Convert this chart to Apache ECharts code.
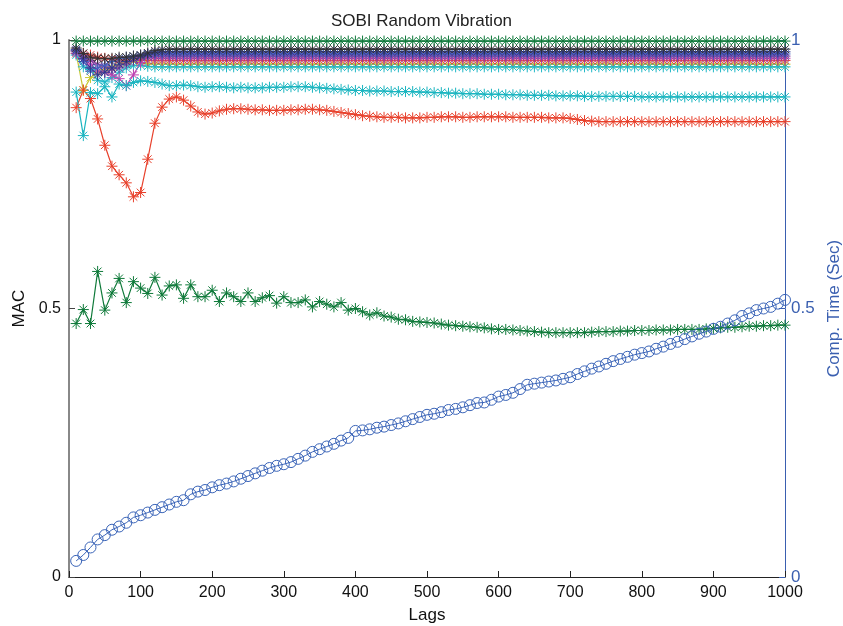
<!DOCTYPE html>
<html><head><meta charset="utf-8">
<script src="https://cdn.jsdelivr.net/npm/echarts@6/dist/echarts.min.js"></script>
<style>html,body{margin:0;padding:0;background:#fff}#c{width:843px;height:626px}</style>
</head><body><div id="c"></div>
<script>
const lags = [10,20,30,40,50,60,70,80,90,100,110,120,130,140,150,160,170,180,190,200,210,220,230,240,250,260,270,280,290,300,310,320,330,340,350,360,370,380,390,400,410,420,430,440,450,460,470,480,490,500,510,520,530,540,550,560,570,580,590,600,610,620,630,640,650,660,670,680,690,700,710,720,730,740,750,760,770,780,790,800,810,820,830,840,850,860,870,880,890,900,910,920,930,940,950,960,970,980,990,1000];
const xTicks = [0,100,200,300,400,500,600,700,800,900,1000];
const yTicks = [0,0.5,1];

const macRedLow = [0.874,0.907,0.891,0.853,0.804,0.765,0.749,0.734,0.708,0.716,0.778,0.845,0.875,0.890,0.894,0.888,0.877,0.866,0.862,0.864,0.868,0.871,0.872,0.872,0.871,0.870,0.870,0.869,0.869,0.869,0.870,0.870,0.871,0.871,0.870,0.869,0.867,0.865,0.863,0.861,0.859,0.858,0.857,0.856,0.856,0.856,0.855,0.855,0.855,0.856,0.856,0.857,0.857,0.857,0.856,0.856,0.857,0.857,0.857,0.857,0.857,0.856,0.856,0.856,0.856,0.856,0.855,0.855,0.855,0.854,0.852,0.850,0.849,0.848,0.848,0.848,0.848,0.848,0.848,0.848,0.848,0.848,0.848,0.848,0.848,0.848,0.848,0.848,0.848,0.848,0.848,0.848,0.848,0.848,0.848,0.848,0.848,0.848,0.848,0.848];
const macCyanLow = [0.903,0.822,0.902,0.900,0.913,0.894,0.918,0.915,0.921,0.924,0.923,0.921,0.918,0.915,0.915,0.916,0.915,0.913,0.912,0.913,0.913,0.912,0.911,0.912,0.911,0.911,0.911,0.912,0.912,0.912,0.913,0.913,0.913,0.912,0.911,0.910,0.909,0.908,0.907,0.906,0.906,0.905,0.905,0.905,0.904,0.904,0.904,0.904,0.903,0.903,0.902,0.902,0.901,0.901,0.900,0.900,0.900,0.899,0.899,0.899,0.898,0.898,0.898,0.897,0.897,0.897,0.897,0.896,0.896,0.896,0.896,0.895,0.895,0.895,0.895,0.895,0.895,0.895,0.895,0.894,0.894,0.894,0.894,0.894,0.894,0.894,0.894,0.894,0.894,0.894,0.894,0.894,0.894,0.894,0.894,0.894,0.894,0.894,0.894,0.894];
const macGreenLow = [0.472,0.498,0.472,0.569,0.497,0.529,0.556,0.511,0.550,0.538,0.528,0.558,0.525,0.542,0.544,0.519,0.544,0.522,0.522,0.534,0.513,0.529,0.522,0.513,0.529,0.513,0.520,0.524,0.510,0.522,0.511,0.511,0.516,0.503,0.513,0.508,0.503,0.511,0.497,0.500,0.494,0.488,0.492,0.486,0.484,0.480,0.479,0.476,0.475,0.474,0.473,0.471,0.469,0.468,0.467,0.466,0.465,0.464,0.462,0.461,0.461,0.460,0.459,0.458,0.457,0.456,0.455,0.455,0.455,0.455,0.455,0.455,0.456,0.457,0.457,0.457,0.458,0.458,0.459,0.459,0.459,0.460,0.460,0.460,0.461,0.461,0.461,0.461,0.462,0.463,0.464,0.465,0.465,0.466,0.467,0.467,0.468,0.468,0.469,0.469];
const macGreenTop = [0.998,0.998,0.998,0.998,0.998,0.998,0.998,0.998,0.998,0.998,0.998,0.998,0.998,0.998,0.998,0.998,0.998,0.998,0.998,0.998,0.998,0.998,0.998,0.998,0.998,0.998,0.998,0.998,0.998,0.998,0.998,0.998,0.998,0.998,0.998,0.998,0.998,0.998,0.998,0.998,0.998,0.998,0.998,0.998,0.998,0.998,0.998,0.998,0.998,0.998,0.998,0.998,0.998,0.998,0.998,0.998,0.998,0.998,0.998,0.998,0.998,0.998,0.998,0.998,0.998,0.998,0.998,0.998,0.998,0.998,0.998,0.998,0.998,0.998,0.998,0.998,0.998,0.998,0.998,0.998,0.998,0.998,0.998,0.998,0.998,0.998,0.998,0.998,0.998,0.998,0.998,0.998,0.998,0.998,0.998,0.998,0.998,0.998,0.998,0.998];
const macBlack = [0.985,0.975,0.968,0.966,0.965,0.966,0.968,0.968,0.970,0.972,0.976,0.980,0.982,0.983,0.983,0.983,0.983,0.983,0.983,0.983,0.983,0.983,0.983,0.983,0.983,0.983,0.983,0.983,0.983,0.983,0.983,0.983,0.983,0.983,0.983,0.983,0.983,0.983,0.983,0.983,0.983,0.983,0.983,0.983,0.983,0.983,0.983,0.983,0.983,0.983,0.983,0.983,0.983,0.983,0.983,0.983,0.983,0.983,0.983,0.983,0.983,0.983,0.983,0.983,0.983,0.983,0.983,0.983,0.983,0.983,0.983,0.983,0.983,0.983,0.983,0.983,0.983,0.983,0.983,0.983,0.983,0.983,0.983,0.983,0.983,0.983,0.983,0.983,0.983,0.983,0.983,0.983,0.983,0.983,0.983,0.983,0.983,0.983,0.983,0.983];
const macNavy = [0.982,0.965,0.948,0.935,0.940,0.948,0.955,0.960,0.965,0.970,0.974,0.977,0.978,0.978,0.978,0.978,0.978,0.978,0.978,0.978,0.978,0.978,0.978,0.978,0.978,0.978,0.978,0.978,0.978,0.978,0.978,0.978,0.978,0.978,0.978,0.978,0.978,0.978,0.978,0.978,0.978,0.978,0.978,0.978,0.978,0.978,0.978,0.978,0.978,0.978,0.978,0.978,0.978,0.978,0.978,0.978,0.978,0.978,0.978,0.978,0.978,0.978,0.978,0.978,0.978,0.978,0.978,0.978,0.978,0.978,0.978,0.978,0.978,0.978,0.978,0.978,0.978,0.978,0.978,0.978,0.978,0.978,0.978,0.978,0.978,0.978,0.978,0.978,0.978,0.978,0.978,0.978,0.978,0.978,0.978,0.978,0.978,0.978,0.978,0.978];
const macBlue = [0.980,0.960,0.942,0.948,0.953,0.960,0.965,0.968,0.970,0.972,0.973,0.974,0.974,0.974,0.974,0.974,0.974,0.974,0.974,0.974,0.974,0.974,0.974,0.974,0.974,0.974,0.974,0.974,0.974,0.974,0.974,0.974,0.974,0.974,0.974,0.974,0.974,0.974,0.974,0.974,0.974,0.974,0.974,0.974,0.974,0.974,0.974,0.974,0.974,0.974,0.974,0.974,0.974,0.974,0.974,0.974,0.974,0.974,0.974,0.974,0.974,0.974,0.974,0.974,0.974,0.974,0.974,0.974,0.974,0.974,0.974,0.974,0.974,0.974,0.974,0.974,0.974,0.974,0.974,0.974,0.974,0.974,0.974,0.974,0.974,0.974,0.974,0.974,0.974,0.974,0.974,0.974,0.974,0.974,0.974,0.974,0.974,0.974,0.974,0.974];
const macPurple = [0.978,0.970,0.962,0.955,0.950,0.946,0.948,0.955,0.962,0.967,0.969,0.970,0.970,0.970,0.970,0.970,0.970,0.970,0.970,0.970,0.970,0.970,0.970,0.970,0.970,0.970,0.970,0.970,0.970,0.970,0.970,0.970,0.970,0.970,0.970,0.970,0.970,0.970,0.970,0.970,0.970,0.970,0.970,0.970,0.970,0.970,0.970,0.970,0.970,0.970,0.970,0.970,0.970,0.970,0.970,0.970,0.970,0.970,0.970,0.970,0.970,0.970,0.970,0.970,0.970,0.970,0.970,0.970,0.970,0.970,0.970,0.970,0.970,0.970,0.970,0.970,0.970,0.970,0.970,0.970,0.970,0.970,0.970,0.970,0.970,0.970,0.970,0.970,0.970,0.970,0.970,0.970,0.970,0.970,0.970,0.970,0.970,0.970,0.970,0.970];
const macMagenta = [0.975,0.965,0.955,0.942,0.940,0.935,0.928,0.915,0.935,0.958,0.968,0.966,0.966,0.966,0.966,0.966,0.966,0.966,0.966,0.966,0.966,0.966,0.966,0.966,0.966,0.966,0.966,0.966,0.966,0.966,0.966,0.966,0.966,0.966,0.966,0.966,0.966,0.966,0.966,0.966,0.966,0.966,0.966,0.966,0.966,0.966,0.966,0.966,0.966,0.966,0.966,0.966,0.966,0.966,0.966,0.966,0.966,0.966,0.966,0.966,0.966,0.966,0.966,0.966,0.966,0.966,0.966,0.966,0.966,0.966,0.966,0.966,0.966,0.966,0.966,0.966,0.966,0.966,0.966,0.966,0.966,0.966,0.966,0.966,0.966,0.966,0.966,0.966,0.966,0.966,0.966,0.966,0.966,0.966,0.966,0.966,0.966,0.966,0.966,0.966];
const macRedTop = [0.980,0.975,0.972,0.968,0.966,0.964,0.963,0.962,0.962,0.962,0.962,0.962,0.962,0.962,0.962,0.962,0.962,0.962,0.962,0.962,0.962,0.962,0.962,0.962,0.962,0.962,0.962,0.962,0.962,0.962,0.962,0.962,0.962,0.962,0.962,0.962,0.962,0.962,0.962,0.962,0.962,0.962,0.962,0.962,0.962,0.962,0.962,0.962,0.962,0.962,0.962,0.962,0.962,0.962,0.962,0.962,0.962,0.962,0.962,0.962,0.962,0.962,0.962,0.962,0.962,0.962,0.962,0.962,0.962,0.962,0.962,0.962,0.962,0.962,0.962,0.962,0.962,0.962,0.962,0.962,0.962,0.962,0.962,0.962,0.962,0.962,0.962,0.962,0.962,0.962,0.962,0.962,0.962,0.962,0.962,0.962,0.962,0.962,0.962,0.962];
const macYellow = [0.975,0.906,0.930,0.940,0.945,0.950,0.955,0.958,0.960,0.958,0.956,0.955,0.955,0.955,0.955,0.955,0.955,0.955,0.955,0.955,0.955,0.955,0.955,0.955,0.955,0.955,0.955,0.955,0.955,0.955,0.955,0.955,0.955,0.955,0.955,0.955,0.955,0.955,0.955,0.955,0.955,0.955,0.955,0.955,0.955,0.955,0.955,0.955,0.955,0.955,0.955,0.955,0.955,0.955,0.955,0.955,0.955,0.955,0.955,0.955,0.955,0.955,0.955,0.955,0.955,0.955,0.955,0.955,0.955,0.955,0.955,0.955,0.955,0.955,0.955,0.955,0.955,0.955,0.955,0.955,0.955,0.955,0.955,0.955,0.955,0.955,0.955,0.955,0.955,0.955,0.955,0.955,0.955,0.955,0.955,0.955,0.955,0.955,0.955,0.955];
const macCyanTop = [0.972,0.950,0.945,0.925,0.922,0.930,0.940,0.948,0.952,0.953,0.951,0.950,0.950,0.950,0.950,0.950,0.950,0.950,0.950,0.950,0.950,0.950,0.950,0.950,0.950,0.950,0.950,0.950,0.950,0.950,0.950,0.950,0.950,0.950,0.950,0.950,0.950,0.950,0.950,0.950,0.950,0.950,0.950,0.950,0.950,0.950,0.950,0.950,0.950,0.950,0.950,0.950,0.950,0.950,0.950,0.950,0.950,0.950,0.950,0.950,0.950,0.950,0.950,0.950,0.950,0.950,0.950,0.950,0.950,0.950,0.950,0.950,0.950,0.950,0.950,0.950,0.950,0.950,0.950,0.950,0.950,0.950,0.950,0.950,0.950,0.950,0.950,0.950,0.950,0.950,0.950,0.950,0.950,0.950,0.950,0.950,0.950,0.950,0.950,0.950];
const compTime = [0.030,0.041,0.055,0.070,0.078,0.088,0.094,0.101,0.111,0.115,0.120,0.125,0.130,0.135,0.140,0.143,0.154,0.159,0.162,0.167,0.171,0.174,0.178,0.183,0.188,0.193,0.198,0.203,0.207,0.210,0.214,0.220,0.226,0.233,0.238,0.243,0.248,0.254,0.259,0.272,0.273,0.275,0.278,0.280,0.283,0.286,0.290,0.294,0.298,0.302,0.304,0.307,0.311,0.313,0.316,0.320,0.324,0.325,0.330,0.336,0.339,0.343,0.350,0.358,0.360,0.362,0.364,0.366,0.369,0.372,0.378,0.383,0.388,0.392,0.397,0.402,0.406,0.410,0.414,0.417,0.420,0.425,0.429,0.434,0.438,0.443,0.448,0.453,0.457,0.462,0.466,0.472,0.478,0.486,0.491,0.497,0.500,0.503,0.509,0.516];

const asterisk = 'path://M0 5L10 5M5 0L5 10M1.5 1.5L8.5 8.5M8.5 1.5L1.5 8.5';
function pairs(v){ return lags.map((x,i)=>[x,v[i]]); }
function macSeries(v, c){
  return {type:'line', yAxisIndex:0, data:pairs(v), symbol:asterisk, symbolSize:11,
    lineStyle:{color:c, width:1.2}, itemStyle:{color:'rgba(0,0,0,0)', borderColor:c, borderWidth:1},
    emphasis:{disabled:true}, z:2};
}
const series = [
  macSeries(macYellow,'#c8c832'),
  macSeries(macCyanTop,'#20b8c8'),
  macSeries(macRedTop,'#e0403a'),
  macSeries(macMagenta,'#c040b0'),
  macSeries(macPurple,'#8040a0'),
  macSeries(macBlue,'#4060c0'),
  macSeries(macNavy,'#303890'),
  macSeries(macBlack,'#303030'),
  macSeries(macGreenTop,'#107a3c'),
  macSeries(macRedLow,'#e8412c'),
  macSeries(macCyanLow,'#1ab5c0'),
  macSeries(macGreenLow,'#0f7a3a'),
  {type:'line', yAxisIndex:1, data:pairs(compTime), symbol:'circle', symbolSize:11,
    lineStyle:{color:'#3a64b8', width:1}, itemStyle:{color:'rgba(0,0,0,0)', borderColor:'#3a64b8', borderWidth:1},
    emphasis:{disabled:true}, z:3}
];

const chart = echarts.init(document.getElementById('c'));
chart.setOption({
  animation:false,
  backgroundColor:'#fff',
  title:{text:'SOBI Random Vibration', left:'center', top:8, textStyle:{fontFamily:'Liberation Sans', fontSize:17, fontWeight:'normal', color:'#222'}},
  grid:{left:69, right:58, top:40, bottom:49, containLabel:false, outerBoundsMode:'none'},
  xAxis:{type:'value', min:xTicks[0], max:xTicks[xTicks.length-1], interval:100,
    name:'Lags', nameLocation:'middle', nameGap:30,
    nameTextStyle:{fontFamily:'Liberation Sans', fontSize:17, color:'#111'},
    axisLine:{lineStyle:{color:'#222', width:1}},
    axisTick:{inside:true, length:6, lineStyle:{color:'#222'}},
    axisLabel:{fontFamily:'Liberation Sans', fontSize:16, color:'#111', margin:8, formatter:function(v){return String(v);}},
    splitLine:{show:false}},
  yAxis:[
    {type:'value', min:yTicks[0], max:yTicks[2], interval:0.5, position:'left',
     name:'MAC', nameLocation:'middle', nameGap:37, nameRotate:90,
     nameTextStyle:{fontFamily:'Liberation Sans', fontSize:17, color:'#111'},
     axisLine:{show:true, lineStyle:{color:'#888', width:2}},
     axisTick:{show:true, inside:true, length:6, lineStyle:{color:'#444'}},
     axisLabel:{fontFamily:'Liberation Sans', fontSize:16, color:'#111', margin:8, formatter:function(v){return String(v);}},
     splitLine:{show:false}},
    {type:'value', min:yTicks[0], max:yTicks[2], interval:0.5, position:'right',
     name:'Comp. Time (Sec)', nameLocation:'middle', nameGap:40, nameRotate:90,
     nameTextStyle:{fontFamily:'Liberation Sans', fontSize:17, color:'#3a5fb0'},
     axisLine:{show:true, lineStyle:{color:'#3a5fb0', width:1}},
     axisTick:{show:true, inside:true, length:6, lineStyle:{color:'#3a5fb0'}},
     axisLabel:{fontFamily:'Liberation Sans', fontSize:17, color:'#3a5fb0', margin:6, formatter:function(v){return String(v);}},
     splitLine:{show:false}}
  ],
  series:series
});
</script>
</body></html>
